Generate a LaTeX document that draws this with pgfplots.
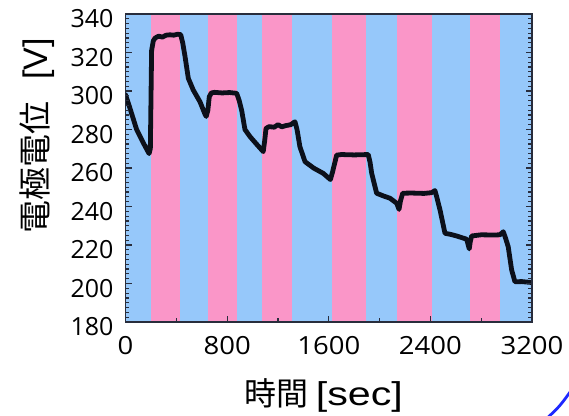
\documentclass[border=0pt]{standalone}
\usepackage{pgfplots}
\pgfplotsset{compat=1.18}
\usepackage{pgfplotstable}
\usepackage{graphicx}
\usepackage{fontspec}
\setmainfont{Open Sans}
\newfontfamily\cjk{Noto Sans CJK JP}
\newfontfamily\arialish{Liberation Sans}
\definecolor{bandblue}{RGB}{150,200,250}
\definecolor{bandpink}{RGB}{250,150,200}
\definecolor{axiscol}{RGB}{40,45,60}
\definecolor{curvecol}{RGB}{12,16,26}
\pgfplotstableread{
t V
0 298
30 292
87 280
140 273
185 267.5
195 270
205 321
218 326
232 327.5
260 328.5
290 328
320 329
350 329.2
380 329
410 329.5
434 329.3
450 325
468 318
494 306.6
533 300.5
586 294.4
625 288
635 286.8
648 290
659 297
675 299
700 299.3
760 299
820 299.2
875 298.8
895 295
914 290
940 280
980 276.3
1030 272.5
1084 268.5
1095 274
1106 280.6
1130 281.5
1170 281.2
1200 282.5
1230 281.4
1260 282
1300 282.5
1321 283.5
1334 284
1350 280
1373 271
1413 263.3
1480 260
1557 257.2
1613 254
1630 258
1662 266.7
1700 267
1800 266.8
1911 267
1925 263
1938 257.2
1977 246.9
2030 245.5
2082 244.3
2135 241.7
2153 238.5
2165 243
2182 246.9
2250 247
2350 246.8
2410 247.2
2436 248.3
2450 245
2476 238.2
2515 226.1
2560 225.5
2607 224.7
2686 223
2706 218
2715 222
2725 224.7
2800 225.3
2900 225.2
2948 225.3
2974 226.9
2990 224
3013 219.1
3040 207
3066 200.9
3120 201
3200 200.5
}\potential
\begin{document}
\begin{tikzpicture}
\begin{axis}[
  scale only axis, width=203.2pt, height=154pt,
  xmin=0, xmax=3200, ymin=180, ymax=340,
  axis background/.style={fill=bandblue},
  axis on top,
  axis line style={axiscol, line width=0.75pt},
  xtick={0,800,1600,2400,3200}, minor xtick={400,1200,2000,2800},
  ytick={180,200,...,340}, minor y tick num=7,
  tick align=inside, xtick pos=bottom, ytick pos=both,
  major tick length=3pt, minor tick length=1.8pt,
  tick style={axiscol, line width=0.6pt},
  /pgf/number format/1000 sep={},
  /pgf/number format/assume math mode=true,
  yticklabel style={font=\fontsize{12.5}{14}\selectfont, xshift=-2.5pt, yshift=-2.5pt},
  xticklabel style={font=\fontsize{12.5}{14}\selectfont, yshift=-3.5pt},
  xticklabel={\scalebox{1.1}[1]{\pgfmathprintnumber{\tick}}},
  xlabel={{\cjk\fontsize{16}{18}\selectfont 時間}\hspace{3.5pt}\scalebox{1.25}[1]{\arialish\fontsize{16.5}{18}\selectfont [sec]}},
  ylabel={{\cjk\fontsize{16.5}{18}\selectfont 電極電位}\hspace{11pt}{\arialish\fontsize{17}{19}\selectfont [V]}},
  xlabel style={at={(axis description cs:0.488,-0.237)}, anchor=center},
  ylabel style={at={(axis description cs:-0.218,0.604)}, anchor=center},
]
\addplot[fill=bandpink, draw=none, forget plot] coordinates {(197,180)(432,180)(432,340)(197,340)} -- cycle;
\addplot[fill=bandpink, draw=none, forget plot] coordinates {(649,180)(875,180)(875,340)(649,340)} -- cycle;
\addplot[fill=bandpink, draw=none, forget plot] coordinates {(1075,180)(1312,180)(1312,340)(1075,340)} -- cycle;
\addplot[fill=bandpink, draw=none, forget plot] coordinates {(1622,180)(1890,180)(1890,340)(1622,340)} -- cycle;
\addplot[fill=bandpink, draw=none, forget plot] coordinates {(2135,180)(2409,180)(2409,340)(2135,340)} -- cycle;
\addplot[fill=bandpink, draw=none, forget plot] coordinates {(2714,180)(2950,180)(2950,340)(2714,340)} -- cycle;
\addplot[line width=2.4pt, color=curvecol, line join=round, line cap=round] table[x=t, y=V] {\potential};
\coordinate (bbsw) at (axis description cs:-0.309,-0.302);
\coordinate (bbne) at (axis description cs:1.0911,1.0455);
\coordinate (arcA) at (axis description cs:1.032,-0.318);
\coordinate (arcB) at (axis description cs:1.068,-0.275);
\coordinate (arcC) at (axis description cs:1.106,-0.2045);
\end{axis}
\draw[color={rgb,255:red,30;green,40;blue,255}, line width=1.4pt] (arcA) .. controls (arcB) .. (arcC);
\pgfresetboundingbox
\path[use as bounding box] (bbsw) rectangle (bbne);
\end{tikzpicture}
\end{document}
